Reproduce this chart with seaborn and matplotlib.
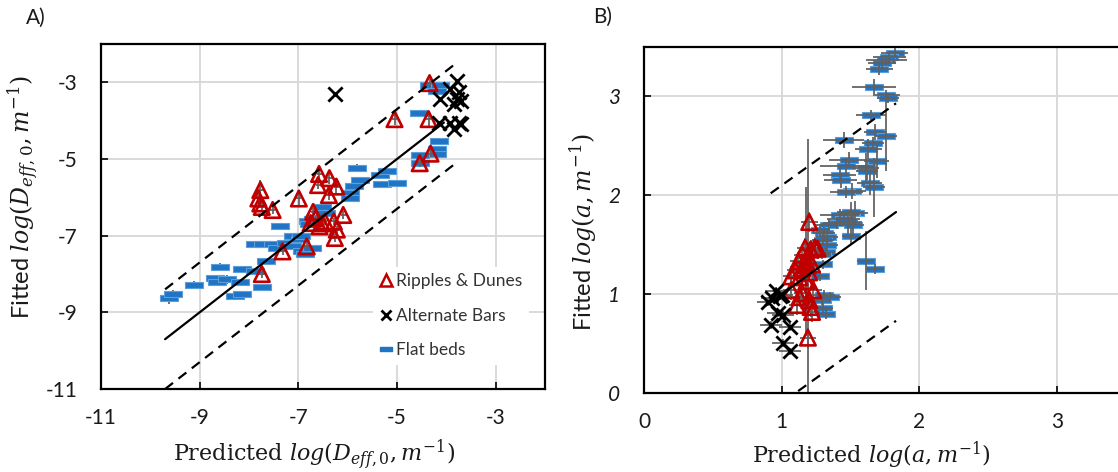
import matplotlib
matplotlib.use("Agg")
import matplotlib.pyplot as plt
from matplotlib.lines import Line2D
from matplotlib.path import Path
import seaborn as sns

# ---------------- Panel A: log(D_eff,0) ----------------
flatA_x = [-9.63, -9.53, -9.11, -8.58, -8.68, -8.65, -8.45, -8.28, -8.14, -8.14,
           -8.18, -7.88, -7.74, -7.66, -7.88, -7.71, -7.37, -7.51, -7.44, -7.24,
           -7.10, -6.97, -7.13, -6.93, -6.87, -6.73, -6.80, -6.70, -6.53, -6.43,
           -5.96, -5.96, -5.82, -5.75, -5.88, -5.34, -5.20, -5.31, -5.00, -4.56,
           -4.14, -4.19, -4.19, -4.53, -4.54, -4.36, -4.12, -4.19, -6.95, -6.78]
flatA_y = [-8.63, -8.53, -8.28, -7.82, -8.11, -8.22, -8.14, -8.57, -8.53, -7.88,
           -8.21, -7.92, -8.34, -7.66, -7.23, -7.22, -6.76, -7.23, -7.32, -7.19,
           -7.00, -7.09, -7.28, -7.41, -7.47, -7.32, -6.63, -6.56, -6.24, -6.40,
           -5.89, -6.03, -5.24, -5.54, -5.70, -5.41, -5.32, -5.66, -5.63, -3.81,
           -4.52, -4.75, -4.87, -4.90, -5.11, -3.07, -3.07, -3.22, -7.02, -6.70]
flatA_xerr = [0.10] * 50
flatA_yerr = [0.15, 0.12, 0.10, 0.10, 0.08, 0.08, 0.12, 0.12, 0.08, 0.08,
              0.08, 0.08, 0.08, 0.08, 0.08, 0.08, 0.08, 0.08, 0.08, 0.08,
              0.08, 0.08, 0.08, 0.08, 0.08, 0.08, 0.08, 0.08, 0.08, 0.08,
              0.08, 0.08, 0.10, 0.08, 0.08, 0.08, 0.08, 0.08, 0.08, 0.08,
              0.08, 0.08, 0.08, 0.08, 0.08, 0.08, 0.08, 0.08, 0.08, 0.08]

ripA_x = [-7.77, -7.81, -7.77, -7.74, -7.52, -6.99, -6.58, -6.37, -6.60, -6.23,
          -6.38, -6.70, -6.75, -6.57, -6.46, -6.28, -6.09, -6.22, -6.26, -6.83,
          -7.32, -7.74, -5.05, -4.36, -4.34, -4.32, -4.54, -6.52, -6.65]
ripA_y = [-5.81, -6.03, -6.16, -6.25, -6.33, -6.03, -5.39, -5.50, -5.68, -5.72,
          -5.94, -6.38, -6.67, -6.76, -6.63, -6.63, -6.46, -6.84, -7.06, -7.28,
          -7.41, -8.00, -3.96, -3.96, -3.02, -4.86, -5.11, -6.68, -6.55]
ripA_xerr = [0.05] * 29
ripA_yerr = [0.25, 0.12, 0.10, 0.10, 0.10, 0.18, 0.12, 0.15, 0.10, 0.22,
             0.12, 0.10, 0.10, 0.10, 0.10, 0.10, 0.10, 0.10, 0.10, 0.10,
             0.10, 0.10, 0.15, 0.18, 0.10, 0.10, 0.10, 0.10, 0.10]

barA_x = [-6.26, -3.78, -3.92, -4.12, -3.75, -3.78, -3.71, -3.85, -4.15, -3.92,
          -3.75, -3.85, -3.71]
barA_y = [-3.31, -2.96, -3.18, -3.44, -3.26, -3.44, -3.48, -3.57, -4.05, -4.05,
          -4.05, -4.23, -4.10]

lineA_x = [-9.7, -3.8]          # extent of the 1:1 line and its bands
lineA_solid_end = -4.05
bandA = 1.3

# ---------------- Panel B: log(a) ----------------
flatB_x = [1.82, 1.78, 1.76, 1.73, 1.71, 1.67, 1.76, 1.77, 1.65, 1.68,
           1.76, 1.45, 1.66, 1.63, 1.69, 1.49, 1.47, 1.61, 1.62, 1.42,
           1.43, 1.64, 1.67, 1.51, 1.47, 1.53, 1.50, 1.42, 1.48, 1.40,
           1.34, 1.45, 1.52, 1.28, 1.31, 1.33, 1.50, 1.30, 1.33, 1.32,
           1.29, 1.30, 1.61, 1.68, 1.28, 1.31, 1.29, 1.30, 1.32, 1.35]
flatB_y = [3.44, 3.40, 3.37, 3.34, 3.28, 3.10, 3.01, 2.98, 2.81, 2.64,
           2.60, 2.56, 2.53, 2.47, 2.35, 2.36, 2.30, 2.28, 2.25, 2.20,
           2.15, 2.12, 2.08, 2.04, 2.03, 1.82, 1.83, 1.80, 1.73, 1.72,
           1.70, 1.76, 1.70, 1.65, 1.62, 1.58, 1.59, 1.55, 1.50, 1.43,
           1.41, 1.30, 1.34, 1.25, 1.18, 0.99, 0.94, 0.86, 0.80, 0.97]
flatB_xerr = [0.10, 0.12, 0.15, 0.10, 0.10, 0.16, 0.10, 0.08, 0.11, 0.08,
              0.08, 0.15, 0.08, 0.10, 0.09, 0.15, 0.19, 0.10, 0.08, 0.12,
              0.12, 0.09, 0.08, 0.10, 0.12, 0.10, 0.10, 0.14, 0.10, 0.10,
              0.10, 0.12, 0.08, 0.07, 0.08, 0.08, 0.06, 0.08, 0.08, 0.07,
              0.07, 0.06, 0.06, 0.06, 0.06, 0.08, 0.07, 0.07, 0.06, 0.08]
flatB_yerr = [0.05, 0.06, 0.05, 0.06, 0.06, 0.08, 0.05, 0.05, 0.05, 0.08,
              0.35, 0.08, 0.06, 0.10, 0.18, 0.08, 0.08, 0.15, 0.10, 0.08,
              0.08, 0.12, 0.30, 0.08, 0.06, 0.12, 0.10, 0.06, 0.12, 0.06,
              0.06, 0.06, 0.12, 0.06, 0.06, 0.06, 0.08, 0.06, 0.06, 0.05,
              0.05, 0.05, 0.30, 0.05, 0.05, 0.05, 0.05, 0.05, 0.05, 0.05]

ripB_x = [1.20, 1.17, 1.21, 1.24, 1.26, 1.15, 1.19, 1.12, 1.18, 1.22,
          1.10, 1.15, 1.20, 1.07, 1.13, 1.18, 1.07, 1.15, 1.23, 1.13,
          1.20, 1.11, 1.21, 1.22, 1.19, 1.19, 1.18]
ripB_y = [1.73, 1.47, 1.45, 1.47, 1.46, 1.40, 1.38, 1.33, 1.31, 1.30,
          1.24, 1.26, 1.22, 1.18, 1.17, 1.13, 1.04, 1.01, 1.04, 0.97,
          0.94, 0.89, 0.87, 0.82, 0.56, 1.29, 1.33]
ripB_xerr = [0.06] * 27
ripB_yerr = [0.10, 0.10, 0.10, 0.10, 0.10, 0.10, 0.10, 0.10, 0.10, 0.10,
             0.10, 0.10, 0.10, 0.10, 0.10, 0.10, 0.10, 0.10, 0.10, 0.10,
             0.10, 0.10, 0.10, 0.10, 0.10, 1.28, 0.75]

barB_x = [0.96, 0.93, 0.90, 0.99, 1.01, 0.97, 0.92, 1.06, 1.01, 1.06, 1.00]
barB_y = [1.03, 0.96, 0.92, 0.98, 0.79, 0.81, 0.69, 0.67, 0.51, 0.42, 0.99]
barB_xerr = [0.08] * 11
barB_yerr = [0.04] * 11

lineB_x = [0.92, 1.83]
bandB = 1.1

ticksA = [-11, -9, -7, -5, -3]
ticksB = [0, 1, 2, 3]

# ---------------- styling ----------------
RED = "#C00000"
BLUE = "#1F74C4"
BLUE_EDGE = "#5A9FDB"
ERR = "#606060"
TXT = "#1a1a1a"
RECT = Path([(-1, -0.3), (1, -0.3), (1, 0.3), (-1, 0.3), (-1, -0.3)],
            [Path.MOVETO, Path.LINETO, Path.LINETO, Path.LINETO, Path.CLOSEPOLY])

sns.set_theme(style="whitegrid")
plt.rcParams["font.family"] = ["Lato", "DejaVu Sans"]
plt.rcParams["mathtext.fontset"] = "dejavuserif"

fig = plt.figure(figsize=(11.18, 4.72), dpi=100)
axA = fig.add_axes([0.0903, 0.1758, 0.3972, 0.7310])
axB = fig.add_axes([0.5760, 0.1674, 0.4928, 0.7331])


def draw_flat(ax, x, y, xe, ye, err_on_top=True):
    sns.scatterplot(x=x, y=y, marker=RECT, s=160, color=BLUE,
                    edgecolor=BLUE_EDGE, linewidth=0.8, ax=ax, zorder=3)
    ax.errorbar(x, y, xerr=xe, yerr=ye, fmt="none", ecolor=ERR,
                elinewidth=1.4, capsize=0, zorder=4 if err_on_top else 2,
                alpha=0.9)


def draw_rip(ax, x, y, xe, ye):
    ax.errorbar(x, y, xerr=xe, yerr=ye, fmt="none", ecolor=ERR,
                elinewidth=1.4, capsize=0, zorder=4, alpha=0.9)
    sns.scatterplot(x=x, y=y, marker="^", s=125, facecolor="none",
                    edgecolor=RED, linewidth=1.9, ax=ax, zorder=5)


def draw_bar(ax, x, y, xe=None, ye=None):
    if xe is not None:
        ax.errorbar(x, y, xerr=xe, yerr=ye, fmt="none", ecolor=ERR,
                    elinewidth=1.4, capsize=0, zorder=4, alpha=0.9)
    sns.scatterplot(x=x, y=y, marker="x", s=105, color="black",
                    linewidth=2.0, ax=ax, zorder=6)


# Panel A
draw_flat(axA, flatA_x, flatA_y, flatA_xerr, flatA_yerr, err_on_top=False)
draw_rip(axA, ripA_x, ripA_y, ripA_xerr, ripA_yerr)
draw_bar(axA, barA_x, barA_y)
axA.plot([lineA_x[0], lineA_solid_end], [lineA_x[0], lineA_solid_end],
         color="black", lw=1.6, zorder=7)
for off in (bandA, -bandA):
    axA.plot(lineA_x, [v + off for v in lineA_x], color="black", lw=1.6,
             dashes=(4.5, 3.1), zorder=7)

# Panel B
draw_flat(axB, flatB_x, flatB_y, flatB_xerr, flatB_yerr)
draw_rip(axB, ripB_x, ripB_y, ripB_xerr, ripB_yerr)
draw_bar(axB, barB_x, barB_y, barB_xerr, barB_yerr)
axB.plot(lineB_x, lineB_x, color="black", lw=1.6, zorder=7)
for off in (bandB, -bandB):
    axB.plot(lineB_x, [v + off for v in lineB_x], color="black", lw=1.6,
             dashes=(4.5, 3.1), zorder=7)

axA.set_xlim(-11, -2)
axA.set_ylim(-11, -2)
axA.set_xticks(ticksA)
axA.set_yticks(ticksA)
axA.set_xticklabels([str(t) for t in ticksA])
axA.set_yticklabels([str(t) for t in ticksA])

axB.set_xlim(0, 4)
axB.set_ylim(0, 3.5)
axB.set_xticks(ticksB)
axB.set_yticks(ticksB)
axB.set_xticklabels([str(t) for t in ticksB])
axB.set_yticklabels([str(t) for t in ticksB], fontstyle="italic")

for ax in (axA, axB):
    ax.set_facecolor("white")
    ax.grid(True, color="#d9d9d9", lw=1.4)
    ax.set_axisbelow(True)
    for sp in ax.spines.values():
        sp.set_color("black")
        sp.set_linewidth(1.6)
    ax.tick_params(axis="both", which="major", direction="in", length=5,
                   width=1.2, color="black", labelsize=15, labelcolor=TXT,
                   bottom=True, left=True, top=False, right=False)
    ax.tick_params(axis="x", pad=14)
    ax.tick_params(axis="y", pad=17)

# axis titles
axA.set_xlabel(r"Predicted $log(D_{eff,0}, m^{-1})$", family="DejaVu Serif",
               fontsize=16, color=TXT)
axA.set_ylabel(r"Fitted $log(D_{eff,0}, m^{-1})$", fontsize=17, color=TXT)
axB.set_xlabel(r"Predicted $log(a, m^{-1})$", family="DejaVu Serif",
               fontsize=16, color=TXT)
axB.set_ylabel(r"Fitted $log(a, m^{-1})$", fontsize=17, color=TXT)

axA.xaxis.set_label_coords(0.48, -0.191)
axA.xaxis.label.set_va("center")
axA.yaxis.set_label_coords(-0.176, 0.557)
axA.yaxis.label.set_va("center")
axB.xaxis.set_label_coords(0.412, -0.179)
axB.xaxis.label.set_va("center")
axB.yaxis.set_label_coords(-0.111, 0.465)
axB.yaxis.label.set_va("center")

# panel tags
fig.text(36 / 1118, 1 - 18 / 472, "A)", fontsize=15, color=TXT,
         ha="center", va="center")
fig.text(603 / 1118, 1 - 17 / 472, "B)", fontsize=15, color=TXT,
         ha="center", va="center")

# legend for panel A
handles = [
    Line2D([], [], ls="none", marker="^", mfc="none", mec=RED, mew=1.8, ms=8),
    Line2D([], [], ls="none", marker="x", color="black", mew=2.0, ms=7),
    Line2D([], [], ls="none", marker=RECT, color=BLUE, ms=9),
]
labels = ["Ripples & Dunes", "Alternate Bars", "Flat beds"]
leg = axA.legend(handles, labels, loc="upper left",
                 bbox_to_anchor=(0.612, 0.355), frameon=True,
                 facecolor="white", edgecolor="none", framealpha=1,
                 fontsize=12.5, handlelength=0.7, handletextpad=0.25,
                 labelspacing=1.05, borderpad=0.4, borderaxespad=0)
for t in leg.get_texts():
    t.set_color("#333333")
leg.set_zorder(10)

fig.savefig("out.png", dpi=100)
